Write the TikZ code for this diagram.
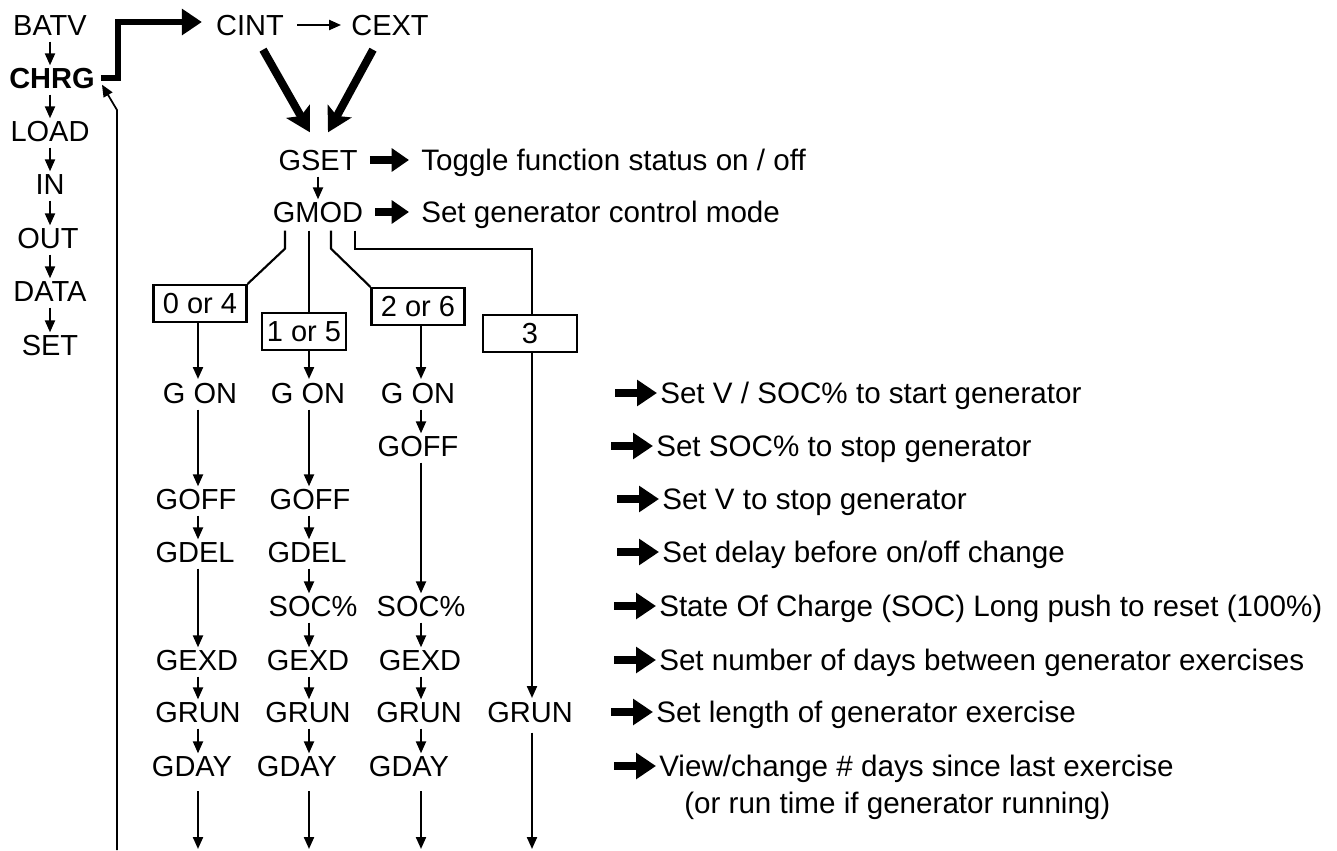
\documentclass[tikz,border=0pt]{standalone}
\usepackage{fontspec}
\setmainfont{Liberation Sans}
\usetikzlibrary{arrows.meta,calc}
\newcommand\myfs{\fontsize{21.75pt}{26pt}\selectfont}
\newcommand\mydfs{\fontsize{22.2pt}{26pt}\selectfont}
\begin{document}
\begin{tikzpicture}[x=0.75pt,y={(0pt,-0.75pt)},
  lab/.style={inner sep=0pt,text height=15.6pt,text depth=0pt,font=\myfs},
  desc/.style={inner sep=0pt,text height=15.9pt,text depth=0pt,font=\mydfs,anchor=west},
  thinln/.style={line width=1.6pt},
  smalltip/.style={-{Triangle[length=9pt,width=7.5pt]}},
  colarr/.style={thinln,smalltip,shorten <=4.5pt,shorten >=1.5pt},
  boxarr/.style={thinln,smalltip,shorten >=2.5pt},
  botarr/.style={thinln,smalltip,shorten <=11pt},
  fatarrow/.style={line width=6pt,-{Triangle[length=13pt,width=17pt]}},
  descarrow/.style={line width=6pt,-{Triangle[length=15pt,width=19pt]}},
  diagarrow/.style={line width=6pt,-{Stealth[length=18pt,width=20pt,inset=4pt]}},
  modebox/.style={draw,thinln,inner sep=0pt,minimum height=27.75pt,font=\myfs,text height=15.6pt,text depth=0pt},
]
\useasboundingbox (0,0) rectangle (1337,850);

% column coordinates
\coordinate (lx) at (50,0);
\coordinate (k1) at (198,0);
\coordinate (k2) at (309,0);
\coordinate (k3) at (421,0);
\coordinate (k4) at (532,0);

% left menu column
\node[lab] (batv) at (50,25) {BATV};
\node[lab,font=\myfs\bfseries] (chrg) at (52,78) {CHRG};
\node[lab] (load) at (50,131) {LOAD};
\node[lab] (in) at (50,184) {IN};
\node[lab] (out) at (48,238) {OUT};
\node[lab] (data) at (50,291) {DATA};
\node[lab] (set) at (50,345) {SET};
\draw[colarr] (batv.south -| lx) -- (chrg.north -| lx);
\draw[colarr] (chrg.south -| lx) -- (load.north -| lx);
\draw[colarr] (load.south -| lx) -- (in.north -| lx);
\draw[colarr] (in.south -| lx) -- (out.north -| lx);
\draw[colarr] (out.south -| lx) -- (data.north -| lx);
\draw[colarr] (data.south -| lx) -- (set.north -| lx);

% top row
\node[lab] (cint) at (250,25) {CINT};
\node[lab] (cext) at (390,25) {CEXT};
\draw[thinln,smalltip,shorten <=10pt,shorten >=7.5pt] (cint) -- (cext);
\draw[line width=5pt,line join=miter,-{Triangle[length=15pt,width=19pt]}]
  ($(chrg.east)+(6,0)$) -- ++(17,0) |- ($(cint.west)+(-14,-3)$);

% GSET / GMOD
\node[lab] (gset) at (318,160) {GSET};
\node[desc] (dtog) at (421,160) {Toggle function status on / off};
\node[lab] (gmod) at (318,212) {GMOD};
\node[desc] (dmod) at (421,212) {Set generator control mode};
\draw[diagarrow] ($(cint.south)+(13,14)$) -- ($(gset.north)+(-8,-17)$);
\draw[diagarrow] ($(cext.south)+(-17,14)$) -- ($(gset.north)+(10,-17)$);
\draw[fatarrow,shorten <=9pt,shorten >=9pt] (gset) -- (dtog);
\draw[fatarrow,shorten <=9pt,shorten >=9pt] (gmod) -- (dmod);
\draw[colarr] (gset) -- (gmod);

% mode boxes
\node[modebox,minimum width=69.75pt] (bA) at (200,303.5) {0 or 4};
\node[modebox,minimum width=63pt] (bB) at (304,331.5) {1 or 5};
\node[modebox,minimum width=69.75pt] (bC) at (418,306.5) {2 or 6};
\node[modebox,minimum width=70.5pt] (bD) at (530,333.5) {3};
\draw[thinln] ($(gmod.south)+(-33,8)$) -- ++(0,18) -- (bA.north east);
\draw[thinln] ($(gmod.south)+(-9,8)$) -- (bB.north -| k2);
\draw[thinln] ($(gmod.south)+(13,8)$) -- ++(0,18) -- (bC.north west);
\draw[thinln] ($(gmod.south)+(37,8)$) -- ++(0,18) -| (bD.north -| k4);

% column nodes
\node[lab] (gon1) at (200,393) {G ON};
\node[lab] (gon2) at (308,393) {G ON};
\node[lab] (gon3) at (418,393) {G ON};
\node[lab] (goff3) at (418,446) {GOFF};
\node[lab] (goff1) at (196,499) {GOFF};
\node[lab] (goff2) at (310,499) {GOFF};
\node[lab] (gdel1) at (195,552) {GDEL};
\node[lab] (gdel2) at (307,552) {GDEL};
\node[lab] (soc2) at (313,606) {SOC\%};
\node[lab] (soc3) at (421,606) {SOC\%};
\node[lab] (gexd1) at (197,660) {GEXD};
\node[lab] (gexd2) at (308,660) {GEXD};
\node[lab] (gexd3) at (420,660) {GEXD};
\node[lab] (grun1) at (198,712) {GRUN};
\node[lab] (grun2) at (308,712) {GRUN};
\node[lab] (grun3) at (419,712) {GRUN};
\node[lab] (grun4) at (530,712) {GRUN};
\node[lab] (gday1) at (192,766) {GDAY};
\node[lab] (gday2) at (297,766) {GDAY};
\node[lab] (gday3) at (409,766) {GDAY};
\coordinate (bot1) at (198,849);
\coordinate (bot2) at (309,849);
\coordinate (bot3) at (421,849);
\coordinate (bot4) at (532,849);

% column 1
\draw[boxarr] (bA.south -| k1) -- (gon1.north -| k1);
\draw[colarr] (gon1.south -| k1) -- (goff1.north -| k1);
\draw[colarr] (goff1.south -| k1) -- (gdel1.north -| k1);
\draw[colarr] (gdel1.south -| k1) -- (gexd1.north -| k1);
\draw[colarr] (gexd1.south -| k1) -- (grun1.north -| k1);
\draw[colarr] (grun1.south -| k1) -- (gday1.north -| k1);
\draw[botarr] (gday1.south -| k1) -- (bot1);
% column 2
\draw[boxarr] (bB.south -| k2) -- (gon2.north -| k2);
\draw[colarr] (gon2.south -| k2) -- (goff2.north -| k2);
\draw[colarr] (goff2.south -| k2) -- (gdel2.north -| k2);
\draw[colarr] (gdel2.south -| k2) -- (soc2.north -| k2);
\draw[colarr] (soc2.south -| k2) -- (gexd2.north -| k2);
\draw[colarr] (gexd2.south -| k2) -- (grun2.north -| k2);
\draw[colarr] (grun2.south -| k2) -- (gday2.north -| k2);
\draw[botarr] (gday2.south -| k2) -- (bot2);
% column 3
\draw[boxarr] (bC.south -| k3) -- (gon3.north -| k3);
\draw[colarr] (gon3.south -| k3) -- (goff3.north -| k3);
\draw[colarr] (goff3.south -| k3) -- (soc3.north -| k3);
\draw[colarr] (soc3.south -| k3) -- (gexd3.north -| k3);
\draw[colarr] (gexd3.south -| k3) -- (grun3.north -| k3);
\draw[colarr] (grun3.south -| k3) -- (gday3.north -| k3);
\draw[botarr] (gday3.south -| k3) -- (bot3);
% column 4
\draw[boxarr] (bD.south -| k4) -- (grun4.north -| k4);
\draw[thinln,smalltip,shorten <=7.5pt] (grun4.south -| k4) -- (bot4);

% feedback line to CHRG
\coordinate (fbbot) at (117,850);
\coordinate (fbbend) at (117,110);
\draw[line width=1.3pt,smalltip] (fbbot) -- (fbbend) -- ($(chrg.south east)+(7,-4)$);

% descriptions
\node[desc] (d1) at (660,393) {Set V / SOC\% to start generator};
\node[desc] (d2) at (656,446) {Set SOC\% to stop generator};
\node[desc] (d3) at (662,499) {Set V to stop generator};
\node[desc] (d4) at (662,552) {Set delay before on/off change};
\node[desc] (d5) at (659,606) {State Of Charge (SOC) Long push to reset (100\%)};
\node[desc] (d6) at (659,660) {Set number of days between generator exercises};
\node[desc] (d7) at (656,712) {Set length of generator exercise};
\node[desc] (d8) at (659,766) {View/change \# days since last exercise};
\node[desc] (d9) at (684,803) {(or run time if generator running)};
\foreach \d in {d1,d2,d3,d4,d5,d6,d7,d8}
  \draw[descarrow] ($(\d.west)+(-45,0)$) -- ($(\d.west)+(-3,0)$);
\end{tikzpicture}
\end{document}
